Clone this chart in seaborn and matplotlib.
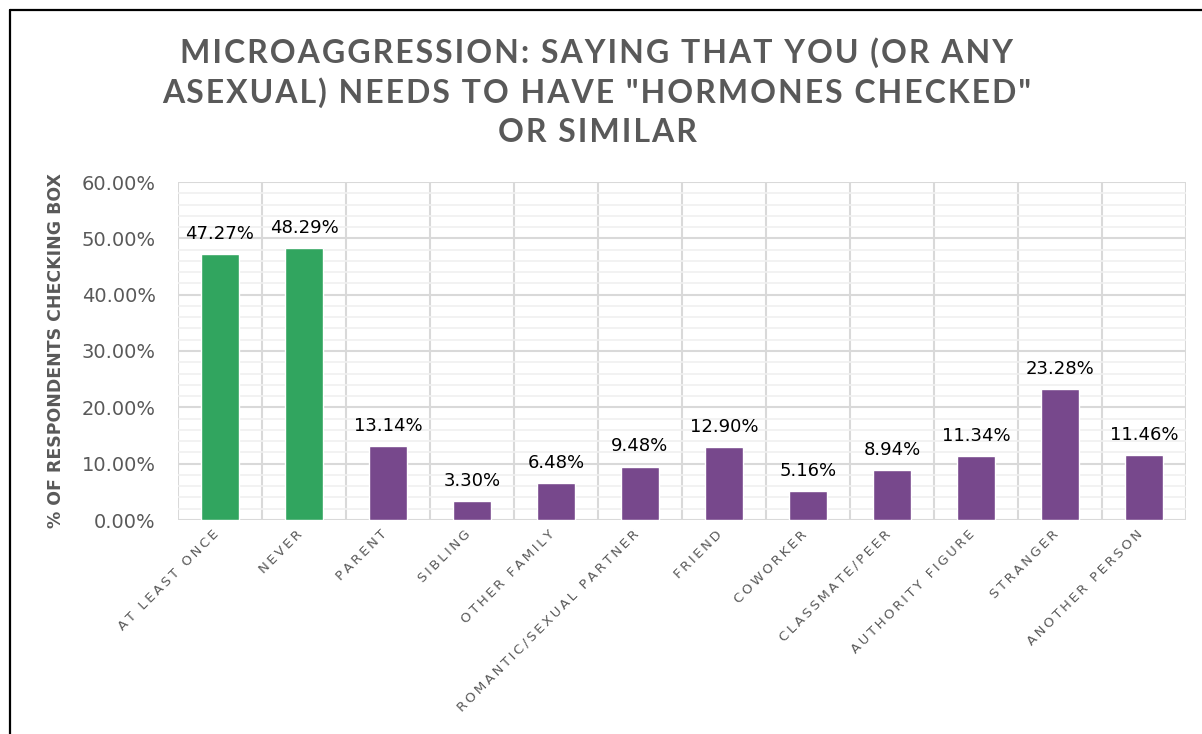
import matplotlib
matplotlib.use("Agg")
import matplotlib.pyplot as plt
import matplotlib.transforms as mtransforms
from matplotlib.lines import Line2D
from matplotlib.ticker import MultipleLocator, FuncFormatter
import seaborn as sns
import pandas as pd

categories = [
    "AT LEAST ONCE", "NEVER", "PARENT", "SIBLING", "OTHER FAMILY",
    "ROMANTIC/SEXUAL PARTNER", "FRIEND", "COWORKER", "CLASSMATE/PEER",
    "AUTHORITY FIGURE", "STRANGER", "ANOTHER PERSON",
]
values = [47.27, 48.29, 13.14, 3.30, 6.48, 9.48, 12.90, 5.16, 8.94, 11.34, 23.28, 11.46]
bar_colors = ["#31A55F", "#31A55F"] + ["#77488C"] * 10

title_lines = [
    "MICROAGGRESSION: SAYING THAT YOU (OR ANY",
    "ASEXUAL) NEEDS TO HAVE \"HORMONES CHECKED\"",
    "OR SIMILAR",
]
y_label = "% OF RESPONDENTS CHECKING BOX"

GREY = "#595959"
GRID_MAJOR = "#D9D9D9"
GRID_MINOR = "#F0F0F0"

sns.set_theme(style="white")
plt.rcParams["font.family"] = ["DejaVu Sans"]


def spaced(text, sep="\u2009"):
    return sep.join(text)


df = pd.DataFrame({"category": categories, "value": values})

W, H = 1202, 734
fig = plt.figure(figsize=(W / 100, H / 100), dpi=100)
ax = fig.add_axes([178 / W, (H - 520) / H, (1186 - 178) / W, (520 - 182) / H])

sns.barplot(
    data=df, x="category", y="value", hue="category",
    palette=dict(zip(categories, bar_colors)), width=0.45,
    legend=False, ax=ax, saturation=1,
)

ax.set_xlim(-0.5, len(categories) - 0.5)
ax.set_ylim(0, 60)

# gridlines: major every 10%, minor every 2%, vertical between categories
ax.yaxis.set_major_locator(MultipleLocator(10))
ax.yaxis.set_minor_locator(MultipleLocator(2))
ax.set_xticks([i - 0.5 for i in range(len(categories) + 1)], minor=True)
ax.grid(which="minor", axis="y", color=GRID_MINOR, linewidth=1.2, zorder=0)
ax.grid(which="major", axis="y", color=GRID_MAJOR, linewidth=1.5, zorder=0)
ax.grid(which="minor", axis="x", color=GRID_MAJOR, linewidth=1.5, zorder=0)
ax.set_axisbelow(True)
for s in ax.spines.values():
    s.set_visible(False)

ax.yaxis.set_major_formatter(FuncFormatter(lambda v, p: f"{v:.2f}%"))
ax.tick_params(axis="y", which="major", length=6, width=1.5, color=GRID_MAJOR,
               labelsize=14, labelcolor=GREY, pad=10)
ax.tick_params(axis="y", which="minor", length=0)
ax.tick_params(axis="x", which="both", length=0)

# category labels: letter-spaced, rotated, ending just under each category centre
ax.set_xticks(range(len(categories)))
ax.set_xticklabels([""] * len(categories))
label_tf = ax.get_xaxis_transform() + mtransforms.ScaledTranslation(
    -8 / 100, -8 / 100, fig.dpi_scale_trans)
for i, c in enumerate(categories):
    ax.text(i, 0, spaced(c), transform=label_tf, rotation=45, ha="right",
            va="top", rotation_mode="anchor", fontsize=9.5, color=GREY,
            clip_on=False)

ax.set_xlabel("")
ax.set_ylabel(y_label, fontsize=12.5, fontweight="bold", color=GREY, labelpad=12)

for cont in ax.containers:
    ax.bar_label(cont, fmt="%.2f%%", padding=8, fontsize=13, color="black")

for i, line in enumerate(title_lines):
    fig.text(597 / W, 1 - (53 + 40 * i) / H, spaced(line, "\u200a"),
             ha="center", va="center", fontsize=23, fontweight="bold",
             color=GREY, family=["Lato", "DejaVu Sans"])

# frame lines along the top and left of the chart area
fig.add_artist(Line2D([10 / W, 1], [1 - 10 / H, 1 - 10 / H], color="black",
                      linewidth=1.6, transform=fig.transFigure))
fig.add_artist(Line2D([10 / W, 10 / W], [0, 1 - 10 / H], color="black",
                      linewidth=1.6, transform=fig.transFigure))

fig.savefig("out.png", dpi=100)
